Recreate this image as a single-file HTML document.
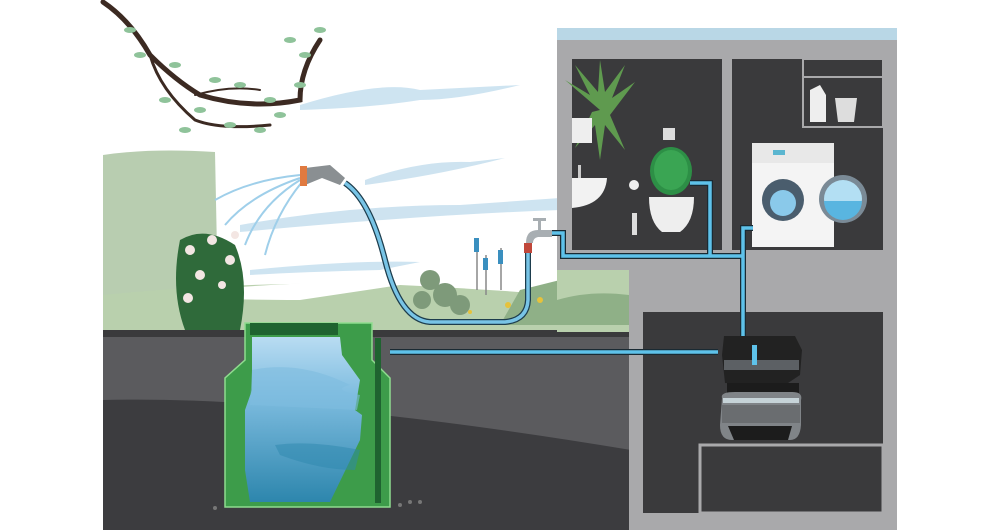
<!DOCTYPE html>
<html><head><meta charset="utf-8"><style>html,body{margin:0;padding:0;background:#fff;width:1000px;height:530px;overflow:hidden}</style></head>
<body>
<svg width="1000" height="530" viewBox="0 0 1000 530" xmlns="http://www.w3.org/2000/svg">
<defs>
<linearGradient id="w" x1="0" y1="0" x2="0" y2="1"><stop offset="0" stop-color="#b9dcf2"/><stop offset="0.35" stop-color="#7fbde0"/><stop offset="1" stop-color="#2d86ad"/></linearGradient>
</defs>
<rect width="1000" height="530" fill="#fff"/>
<!-- clouds -->
<g fill="#c9e1ef" opacity="0.9">
<path d="M300 105 Q380 80 420 90 L520 85 Q460 100 420 100 Q370 108 300 110Z"/>
<path d="M365 180 Q420 160 470 162 L505 158 Q440 175 365 185Z"/>
<path d="M240 225 Q350 205 460 205 L560 198 L560 210 Q420 215 240 232Z"/>
<path d="M250 270 Q350 260 420 262 L380 270 Q300 272 250 275Z"/>
</g>
<!-- hedge -->
<path d="M103 155 Q150 148 215 152 L218 300 L103 300Z" fill="#b8cdb0"/>
<!-- grass band -->
<path d="M103 295 Q250 280 400 285 Q500 290 557 295 L557 332 L103 332Z" fill="#b9d0ad"/>
<path d="M200 290 Q320 280 420 282 L300 300 Q240 300 200 298Z" fill="#fff"/>
<!-- garden plants -->
<g fill="#7e9a7a"><circle cx="430" cy="280" r="10"/><circle cx="445" cy="295" r="12"/><circle cx="422" cy="300" r="9"/><circle cx="460" cy="305" r="10"/></g>
<path d="M520 290 L560 280 L560 325 L500 325Z" fill="#8fb087"/>
<g fill="#e6c23b"><circle cx="508" cy="305" r="3"/><circle cx="540" cy="300" r="3"/><circle cx="470" cy="312" r="2"/></g>
<g stroke="#888" stroke-width="1.5"><line x1="477" y1="240" x2="477" y2="290"/><line x1="501" y1="248" x2="501" y2="290"/><line x1="486" y1="255" x2="486" y2="295"/></g>
<g fill="#3a8fbf"><rect x="474" y="238" width="5" height="14"/><rect x="498" y="250" width="5" height="14"/><rect x="483" y="258" width="5" height="12"/></g>
<!-- tree branch -->
<g stroke="#3c2a22" fill="none" stroke-linecap="round">
<path d="M103 2 Q130 20 150 55 Q175 80 200 95 Q250 110 300 100 Q300 70 320 40" stroke-width="5"/>
<path d="M150 55 Q160 90 195 120 Q220 130 270 125" stroke-width="3"/>
<path d="M195 95 Q230 85 260 90" stroke-width="2"/>
</g>
<g fill="#8fc39a">
<ellipse cx="130" cy="30" rx="6" ry="3"/><ellipse cx="140" cy="55" rx="6" ry="3"/><ellipse cx="175" cy="65" rx="6" ry="3"/><ellipse cx="165" cy="100" rx="6" ry="3"/><ellipse cx="200" cy="110" rx="6" ry="3"/><ellipse cx="230" cy="125" rx="6" ry="3"/><ellipse cx="260" cy="130" rx="6" ry="3"/><ellipse cx="270" cy="100" rx="6" ry="3"/><ellipse cx="300" cy="85" rx="6" ry="3"/><ellipse cx="305" cy="55" rx="6" ry="3"/><ellipse cx="320" cy="30" rx="6" ry="3"/><ellipse cx="290" cy="40" rx="6" ry="3"/><ellipse cx="240" cy="85" rx="6" ry="3"/><ellipse cx="215" cy="80" rx="6" ry="3"/><ellipse cx="280" cy="115" rx="6" ry="3"/><ellipse cx="185" cy="130" rx="6" ry="3"/>
</g>
<!-- water spray -->
<g stroke="#9fcfea" stroke-width="2" fill="none">
<path d="M300 175 Q250 180 215 200"/><path d="M300 178 Q250 195 225 225"/><path d="M300 180 Q260 205 245 245"/><path d="M302 182 Q275 215 265 255"/>
</g>
<!-- rose bush -->
<path d="M180 240 Q205 225 235 245 Q250 280 240 330 L185 330 Q170 290 180 240Z" fill="#2f6a3a"/>
<g fill="#f3e6e3"><circle cx="190" cy="250" r="5"/><circle cx="212" cy="240" r="5"/><circle cx="230" cy="260" r="5"/><circle cx="200" cy="275" r="5"/><circle cx="222" cy="285" r="4"/><circle cx="188" cy="298" r="5"/><circle cx="235" cy="235" r="4"/></g>
<!-- spray gun -->
<path d="M305 168 L330 165 L345 178 L340 185 L322 178 L305 185Z" fill="#8a8f92"/>
<rect x="300" y="166" width="7" height="20" fill="#e07a40"/>
<!-- hose -->
<path d="M345 183 Q370 200 385 260 Q400 320 430 322 L505 322 Q527 320 528 300 L528 245" stroke="#1d3d4d" stroke-width="6" fill="none"/>
<path d="M345 183 Q370 200 385 260 Q400 320 430 322 L505 322 Q527 320 528 300 L528 245" stroke="#78c4e6" stroke-width="3.5" fill="none"/>
<rect x="524" y="243" width="8" height="10" fill="#c0473a"/>
<path d="M526 243 Q526 230 538 230 L552 230 L552 237 L538 237 Q533 238 533 243Z" fill="#a8aeb2"/>
<rect x="538" y="218" width="3" height="12" fill="#a8aeb2"/><rect x="533" y="218" width="13" height="3" fill="#a8aeb2"/>
<!-- ground -->
<rect x="103" y="330" width="528" height="200" fill="#5b5b5e"/>
<rect x="103" y="330" width="528" height="7" fill="#3a3a3c"/>
<path d="M103 400 Q300 395 631 450 L631 530 L103 530Z" fill="#3c3c3f"/>
<!-- house -->
<path d="M557 28 L897 28 L897 530 L643 530 L643 332 L629 332 L629 270 L557 270Z" fill="#a9a9ab"/>
<rect x="557" y="28" width="340" height="12" fill="#b9d7e6"/>
<rect x="557" y="270" width="72" height="62" fill="#b9d0ad"/>
<path d="M557 300 Q590 290 629 295 L629 325 L557 325Z" fill="#8fb087"/>
<rect x="629" y="270" width="14" height="260" fill="#a9a9ab"/>
<rect x="572" y="59" width="150" height="191" fill="#3a3a3c"/>
<rect x="732" y="59" width="151" height="191" fill="#3a3a3c"/>
<rect x="803" y="59" width="80" height="68" fill="none" stroke="#a9a9ab" stroke-width="2"/>
<line x1="803" y1="77" x2="883" y2="77" stroke="#a9a9ab" stroke-width="2"/>
<path d="M810 90 L820 85 L826 95 L826 122 L810 122Z" fill="#eee"/>
<path d="M835 98 L857 98 L854 122 L838 122Z" fill="#ddd"/>
<rect x="643" y="312" width="240" height="201" fill="#3a3a3c"/>
<rect x="700" y="445" width="183" height="68" fill="#3a3a3c" stroke="#a9a9ab" stroke-width="3"/>
<!-- plant -->
<g fill="#5f9a4f"><path d="M600 110 L565 80 L590 95 L575 65 L598 92 L600 60 L605 92 L625 65 L612 98 L635 82 L610 115 L625 150 L605 125 L600 160 L595 125 L575 148 L592 112Z"/></g>
<rect x="572" y="118" width="20" height="25" fill="#eee"/>
<!-- sink -->
<path d="M572 178 L607 178 Q605 205 572 208Z" fill="#f2f2f2"/>
<rect x="578" y="165" width="3" height="13" fill="#ccc"/>
<circle cx="634" cy="185" r="5" fill="#eee"/>
<rect x="632" y="213" width="5" height="22" fill="#ddd"/>
<!-- toilet -->
<rect x="663" y="128" width="12" height="12" fill="#ddd"/>
<ellipse cx="671" cy="171" rx="21" ry="24" fill="#2d8f46"/>
<ellipse cx="671" cy="170" rx="17" ry="20" fill="#3aa553"/>
<path d="M649 197 L694 197 Q694 222 680 232 L662 232 Q649 222 649 197Z" fill="#eee"/>
<!-- washing machine -->
<rect x="752" y="143" width="82" height="104" fill="#f4f4f4"/>
<rect x="752" y="143" width="82" height="20" fill="#e8e8e8"/>
<rect x="773" y="150" width="12" height="5" fill="#5bb6d0"/>
<circle cx="783" cy="200" r="21" fill="#4a5d6d"/>
<circle cx="783" cy="203" r="13" fill="#8ac9ea"/>
<circle cx="843" cy="199" r="24" fill="#7a8a96"/>
<circle cx="843" cy="199" r="19" fill="#b3dff3"/>
<path d="M824 201 L862 201 A19 19 0 0 1 824 201Z" fill="#59b5e0"/>
<!-- pipes -->
<g fill="none" stroke="#1a2a33" stroke-width="6" stroke-linejoin="miter">
<path d="M552 233 L563 233 L563 256 L743 256"/>
<path d="M690 183 L710 183 L710 256"/>
<path d="M753 228 L743 228 L743 338"/>
<path d="M390 352 L718 352"/>
</g>
<g fill="none" stroke="#5ec2ea" stroke-width="3.5" stroke-linejoin="miter">
<path d="M552 233 L563 233 L563 256 L743 256"/>
<path d="M690 183 L710 183 L710 256"/>
<path d="M753 228 L743 228 L743 338"/>
<path d="M390 352 L718 352"/>
</g>
<!-- pump -->
<path d="M724 336 L795 336 L802 350 L800 375 L785 385 L725 383 L722 355Z" fill="#222"/>
<rect x="724" y="360" width="75" height="10" fill="#5c6064"/>
<rect x="752" y="345" width="5" height="20" fill="#5ec2ea"/>
<rect x="727" y="383" width="72" height="12" fill="#1c1c1c"/>
<path d="M722 398 Q720 392 735 392 L792 392 Q803 392 801 400 L801 425 Q800 440 790 440 L732 440 Q720 440 720 425Z" fill="#808488"/>
<rect x="723" y="398" width="76" height="5" fill="#c6d3d8"/>
<rect x="722" y="405" width="78" height="18" fill="#6a6d70"/>
<path d="M728 426 L792 426 L788 440 L734 440Z" fill="#1c1c1c"/>
<!-- tank -->
<path d="M245 323 L372 323 L372 360 L390 378 L390 507 L225 507 L225 378 L245 360Z" fill="#3d9c4a" stroke="#8fdc8f" stroke-width="1.5"/>
<rect x="250" y="323" width="88" height="12" fill="#1f6330"/>
<path d="M252 337 L340 337 L342 355 L360 380 L355 410 L362 415 L360 440 L330 502 L250 502 L245 470 L245 410 L252 390Z" fill="url(#w)"/>
<path d="M252 370 Q300 360 350 385 Q330 390 360 395 L357 410 L250 405Z" fill="#7fbde0" opacity="0.6"/>
<path d="M275 445 Q310 440 360 450 L355 470 Q320 470 280 455Z" fill="#2e87ad" opacity="0.5"/>
<rect x="375" y="338" width="6" height="165" fill="#1f6330"/>
<g fill="#777"><circle cx="215" cy="508" r="2"/><circle cx="400" cy="505" r="2"/><circle cx="410" cy="502" r="2"/><circle cx="420" cy="502" r="2"/></g>
</svg>
</body></html>
